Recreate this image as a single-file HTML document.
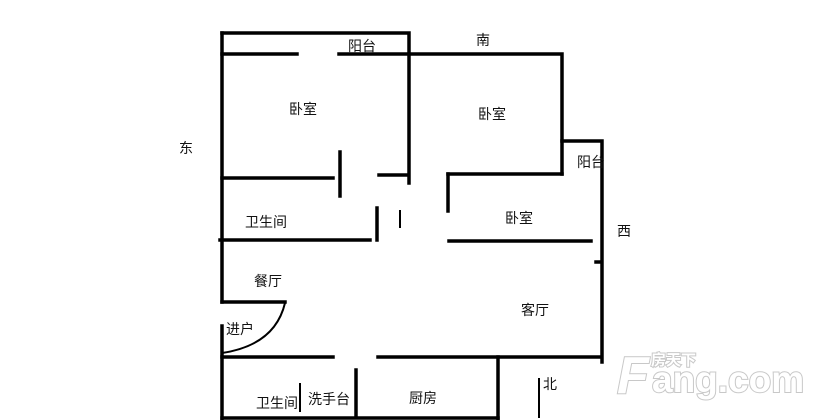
<!DOCTYPE html>
<html><head><meta charset="utf-8"><style>
body{margin:0;background:#fff;width:814px;height:420px;overflow:hidden}
svg{display:block}
text{font-family:"Liberation Sans","Noto Sans CJK SC",sans-serif;font-size:14px;fill:#111}
</style></head><body>
<svg width="814" height="420" viewBox="0 0 814 420">
<g stroke="#000" stroke-width="3.5" fill="none" stroke-linecap="square">
<path d="M222 33 H409 V183"/>
<path d="M222 54 H297"/>
<path d="M339 54 H562 V174"/>
<path d="M222 33 V302"/>
<path d="M222 326 V420"/>
<path d="M562 141 H602 V362"/>
<path d="M596 262 H601"/>
<path d="M222 178 H333"/>
<path d="M340 152 V196"/>
<path d="M379 175 H406"/>
<path d="M220 240 H370"/>
<path d="M377 208 V240"/>
<path d="M448 174 H562"/>
<path d="M448 174 V211"/>
<path d="M449 241 H591"/>
<path d="M222 302 H285"/>
<path d="M222 357 H333"/>
<path d="M378 357 H601"/>
<path d="M498 357 V419"/>
<path d="M356 370 V416"/>
<path d="M222 418 H498"/>
</g>
<g stroke="#000" stroke-width="2" fill="none">
<path d="M400 210 V228"/>
<path d="M300 383 V412"/>
<path d="M285 303 Q275 345 222 353"/>
<path d="M539 378 V418"/>
</g>
<text x="348" y="51">阳台</text>
<text x="476" y="45">南</text>
<text x="179" y="153">东</text>
<text x="289" y="114">卧室</text>
<text x="478" y="119">卧室</text>
<text x="577" y="167">阳台</text>
<text x="617" y="236">西</text>
<text x="505" y="223">卧室</text>
<text x="245" y="227">卫生间</text>
<text x="254" y="286">餐厅</text>
<text x="521" y="315">客厅</text>
<text x="226" y="334">进户</text>
<text x="543" y="389">北</text>
<text x="256" y="408">卫生间</text>
<text x="308" y="404">洗手台</text>
<text x="409" y="403">厨房</text>
<g style="paint-order:stroke" stroke="#c8c8c8" stroke-width="2" fill="#fff">
<text x="617" y="393" style="font-size:52px;font-weight:bold;fill:#fff;font-style:italic">F</text>
<text x="651" y="365" style="font-size:15px;font-weight:bold;fill:#fff">房天下</text>
<text x="652" y="392" style="font-size:37px;font-weight:bold;fill:#fff">ang.com</text>
</g>
</svg>
</body></html>
